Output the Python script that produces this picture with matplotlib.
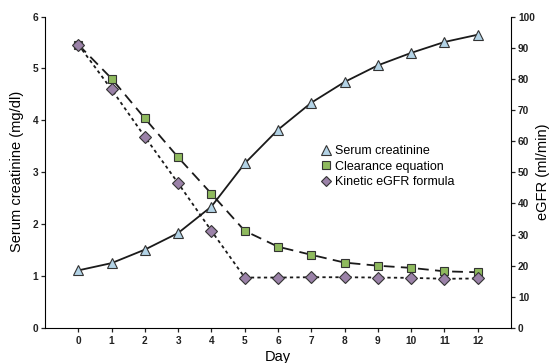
import matplotlib
matplotlib.use("Agg")
import matplotlib.pyplot as plt

plt.rcParams['font.family'] = ['Liberation Sans', 'DejaVu Sans']

days = [0, 1, 2, 3, 4, 5, 6, 7, 8, 9, 10, 11, 12]
serum_creatinine = [1.11, 1.25, 1.51, 1.83, 2.34, 3.17, 3.82, 4.34, 4.74, 5.06, 5.30, 5.51, 5.65]
clearance_eq = [91.0, 80.1, 67.3, 54.8, 43.1, 31.2, 26.1, 23.5, 21.0, 20.0, 19.3, 18.2, 17.9]
kinetic_egfr = [91.0, 76.6, 61.4, 46.5, 31.2, 16.2, 16.2, 16.3, 16.3, 16.2, 16.1, 15.8, 15.9]

left_ticks = [0, 1, 2, 3, 4, 5, 6]
right_ticks = [0, 10, 20, 30, 40, 50, 60, 70, 80, 90, 100]

fig = plt.figure(figsize=(5.51, 3.63), dpi=100)
ax = fig.add_axes([45/551, 1-328/363, (511-45)/551, (328-15)/363])
ax2 = ax.twinx()

blue = '#b3d3e6'
green = '#8fba5e'
purple = '#9b82a8'

l1, = ax.plot(days, serum_creatinine, '-', color='#1a1a1a', lw=1.3,
              marker='^', ms=7.5, mfc=blue, mec='#333333', mew=0.8,
              label='Serum creatinine', zorder=3)
l2, = ax2.plot(days, clearance_eq, color='#1a1a1a', lw=1.3, dashes=(6, 3.5),
               marker='s', ms=6, mfc=green, mec='#333333', mew=0.8,
               label='Clearance equation', zorder=3)
l3, = ax2.plot(days, kinetic_egfr, color='#1a1a1a', lw=1.3, dashes=(1.8, 1.8),
               marker='D', ms=6, mfc=purple, mec='#333333', mew=0.8,
               label='Kinetic eGFR formula', zorder=3)

ax.set_xlim(-1, 13)
ax.set_ylim(0, 6.03)
ax2.set_ylim(0, 100.5)
ax.set_yticks(left_ticks)
ax2.set_yticks(right_ticks)
ax.set_xticks(days)

for a in (ax, ax2):
    a.spines['top'].set_visible(False)
ax.spines['right'].set_visible(False)
ax2.spines['left'].set_visible(False)
ax2.spines['bottom'].set_visible(False)
ax.spines['left'].set_bounds(0, 6)
ax2.spines['right'].set_bounds(0, 100)

ax.tick_params(axis='both', labelsize=7.3, length=3, width=0.9, pad=2, colors='#222222')
ax2.tick_params(axis='y', labelsize=7.3, length=3, width=0.9, pad=2, colors='#222222')
for lab in ax.get_xticklabels() + ax.get_yticklabels() + ax2.get_yticklabels():
    lab.set_fontweight('bold')
ax.tick_params(axis='x', pad=3)

ax.set_xlabel('Day', fontsize=10.5, labelpad=3)
ax.set_ylabel('Serum creatinine (mg/dl)', fontsize=10.5, labelpad=6)
ax2.set_ylabel('eGFR (ml/min)', fontsize=10.5, labelpad=1)

leg_handles = [
    plt.Line2D([], [], ls='none', marker='^', ms=7, mfc=blue, mec='#333333', mew=0.8),
    plt.Line2D([], [], ls='none', marker='s', ms=5.5, mfc=green, mec='#333333', mew=0.8),
    plt.Line2D([], [], ls='none', marker='D', ms=5.5, mfc=purple, mec='#333333', mew=0.8),
]
ax2.legend(leg_handles, ['Serum creatinine', 'Clearance equation', 'Kinetic eGFR formula'],
           loc='upper left', bbox_to_anchor=((321-45)/466, 1-(145-15)/313),
           frameon=False, fontsize=9, handlelength=0.8, handletextpad=0.3,
           labelspacing=0.28, borderaxespad=0, borderpad=0)

fig.savefig('out.png', dpi=100)
